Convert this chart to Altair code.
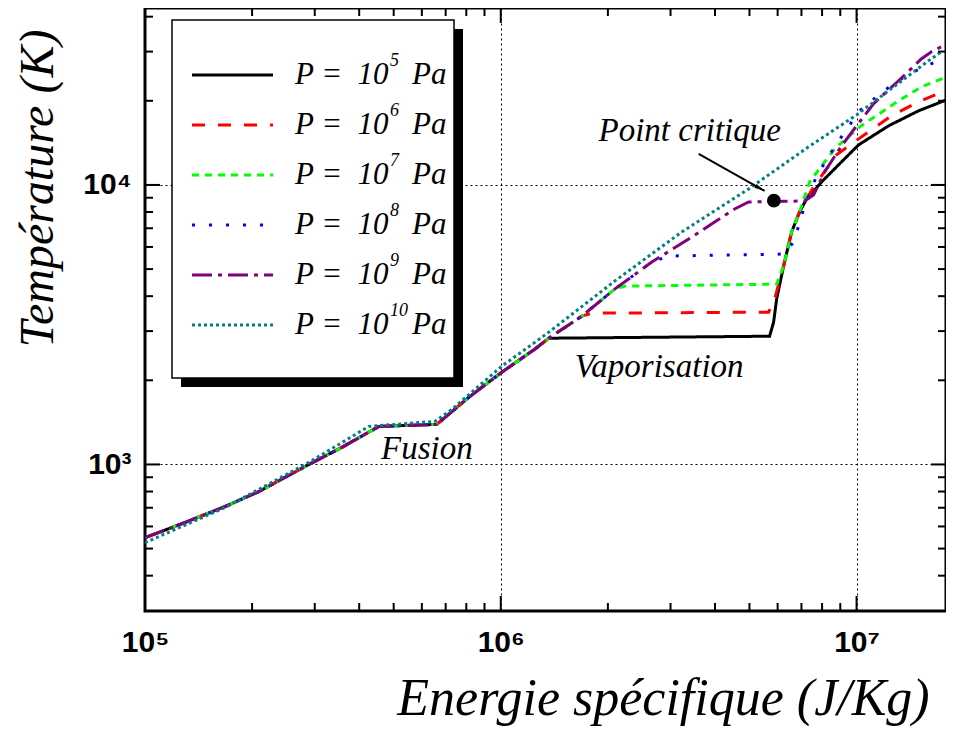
import altair as alt
import pandas as pd

# ---------------- data ----------------
series = ["1e5", "1e6", "1e7", "1e8", "1e9", "1e10"]
legend_base = ["P = \u00a010"] * 6
legend_exp = ["5", "6", "7", "8", "9", "10"]
legend_unit = ["Pa"] * 6
colors = ["#000000", "#ff0000", "#00ff00", "#0000ff", "#800080", "#008080"]
dashes = [[1, 0], [13, 13], [7, 6], [3, 14], [20, 6, 4, 6], [3, 3]]

# common (solid + liquid) branch, specific energy in J/kg, temperature in K
common_E = [1.0e5, 1.296e5, 1.678e5, 2.09e5, 2.888e5, 3.575e5, 4.543e5, 6.611e5,
            8.131e5, 1.006e6, 1.246e6, 1.364e6]
common_T = [547, 620, 707, 800, 1000, 1151, 1368, 1391, 1739, 2137, 2584, 2829]

E_1e5 = common_E + [5.695e6, 5.846e6, 5.961e6, 6.236e6, 6.567e6, 6.916e6, 7.236e6,
                    7.973e6, 8.90e6, 1.013e7, 1.230e7, 1.494e7, 1.885e7]
T_1e5 = common_T + [2876, 3228, 3903, 5124, 6785, 8004, 8910, 10250, 11800, 13910,
                    16270, 18420, 20680]

E_1e6 = common_E + [1.689e6, 1.801e6, 5.658e6, 5.884e6, 6.236e6, 6.567e6, 6.916e6,
                    7.236e6, 7.57e6, 8.785e6, 1.013e7, 1.254e7, 1.494e7, 1.885e7]
T_1e6 = common_T + [3392, 3477, 3506, 3903, 5124, 6785, 8004, 8910, 9836, 12810,
                    14620, 17670, 19840, 22450]

E_1e7 = common_E + [1.689e6, 2.09e6, 2.23e6, 5.961e6, 6.236e6, 6.567e6, 6.916e6,
                    7.379e6, 8.673e6, 1.02e7, 1.312e7, 1.523e7, 1.885e7]
T_1e7 = common_T + [3392, 4239, 4345, 4418, 5124, 6785, 8004, 10250, 13460, 16140,
                    20000, 22450, 24990]

E_1e8 = common_E + [1.689e6, 2.09e6, 2.657e6, 2.965e6, 6.236e6, 6.653e6, 6.873e6,
                    7.099e6, 7.72e6, 8.785e6, 1.02e7, 1.138e7, 1.27e7, 1.409e7,
                    1.573e7, 1.755e7]
T_1e8 = common_T + [3392, 4239, 5297, 5567, 5659, 6249, 7129, 8204, 10770, 14030,
                    18420, 20680, 23010, 24990, 26700, 28290]

E_1e9 = common_E + [1.689e6, 2.09e6, 2.657e6, 3.374e6, 3.991e6, 4.543e6, 4.974e6,
                    7.145e6, 7.57e6, 8.13e6, 9.076e6, 1.0e7, 1.116e7, 1.312e7,
                    1.523e7, 1.624e7, 1.733e7]
T_1e9 = common_T + [3392, 4239, 5297, 6405, 7369, 8204, 8692, 8765, 9209, 11130,
                    13800, 16270, 19510, 23590, 28290, 29970, 31230]

E_1e10 = [1.0e5, 1.678e5, 2.888e5, 4.258e5, 6.527e5, 7.285e5, 1.006e6, 1.364e6,
          2.09e6, 3.224e6, 4.974e6, 7.331e6, 1.0e7, 1.199e7, 1.364e7, 1.593e7, 1.733e7]
T_1e10 = [525, 701, 1017, 1368, 1426, 1574, 2245, 2972, 4528, 6785, 9676, 13690,
          17800, 21200, 23990, 27820, 29970]

critical_E = [5.857e6]
critical_T = [8783]

arrow_E = [3.599e6]
arrow_T = [12910]
arrow_E2 = [5.516e6]
arrow_T2 = [9517]

annot_text = ["Point critique", "Vaporisation", "Fusion"]
annot_E = [3.396e6, 2.788e6, 6.197e5]
annot_T = [14380, 2050, 1042]

x_major = [1e5, 1e6, 1e7]
x_minor = [2e5, 3e5, 4e5, 5e5, 6e5, 7e5, 8e5, 9e5,
           2e6, 3e6, 4e6, 5e6, 6e6, 7e6, 8e6, 9e6]
y_major = [1e3, 1e4]
y_minor = [400, 500, 600, 700, 800, 900,
           2000, 3000, 4000, 5000, 6000, 7000, 8000, 9000, 2e4, 3e4, 4e4]

# ---------------- tables ----------------
rows = []
for name, Es, Ts in zip(series, [E_1e5, E_1e6, E_1e7, E_1e8, E_1e9, E_1e10],
                        [T_1e5, T_1e6, T_1e7, T_1e8, T_1e9, T_1e10]):
    for i, (e, t) in enumerate(zip(Es, Ts)):
        rows.append({"series": name, "E": e, "T": t, "i": i})
df = pd.DataFrame(rows)

W, H = 801, 603
xscale = alt.Scale(type="log", domain=[1e5, 1.784e7], nice=False)
yscale = alt.Scale(type="log", domain=[299, 42960], nice=False)
cscale = alt.Scale(domain=series, range=colors)
dscale = alt.Scale(domain=series, range=dashes)

xaxis = alt.Axis(
    values=x_major,
    labelExpr="datum.value < 5e5 ? '10⁵' : datum.value < 5e6 ? '10⁶' : '10⁷'",
    ticks=False, tickSize=0, domain=False, grid=True, gridDash=[2, 3],
    gridColor="#000000", gridWidth=1, labelFont="Liberation Sans",
    labelFontWeight="bold", labelFontSize=30, labelColor="black",
    labelPadding=16, labelFlush=False,
    title="Energie spécifique (J/Kg)", titleFont="Liberation Serif",
    titleFontStyle="italic", titleFontWeight="normal", titleFontSize=52,
    titleColor="black", titleX=518, titleY=103, titleAlign="center",
    titleBaseline="alphabetic",
)
yaxis = alt.Axis(
    values=y_major,
    labelExpr="datum.value < 5e3 ? '10³' : '10⁴'",
    ticks=False, tickSize=0, domain=False, grid=True, gridDash=[2, 3],
    gridColor="#000000", gridWidth=1, labelFont="Liberation Sans",
    labelFontWeight="bold", labelFontSize=30, labelColor="black",
    labelPadding=14,
    title="Température (K)", titleFont="Liberation Serif",
    titleFontStyle="italic", titleFontWeight="normal", titleFontSize=48,
    titleColor="black", titleAngle=270, titleX=-93, titleY=180,
    titleAlign="center", titleBaseline="alphabetic",
)


def X(field):
    return alt.X(field, type="quantitative", scale=xscale, axis=xaxis)


def Y(field):
    return alt.Y(field, type="quantitative", scale=yscale, axis=yaxis)


lines = alt.Chart(df).mark_line(strokeWidth=3, clip=True).encode(
    x=X("E"), y=Y("T"),
    color=alt.Color("series:N", scale=cscale, legend=None),
    strokeDash=alt.StrokeDash("series:N", scale=dscale, legend=None),
    order=alt.Order("i:Q"),
)

xmaj = pd.DataFrame({"E": x_major})
xmin = pd.DataFrame({"E": x_minor})
ymaj = pd.DataFrame({"T": y_major})
ymin = pd.DataFrame({"T": y_minor})

tick_layers = []
for d, L in [(xmaj, 15), (xmin, 8)]:
    tick_layers.append(alt.Chart(d).mark_rule(color="black", strokeWidth=2).encode(
        x=X("E"), y=alt.value(H), y2=alt.value(H - L)))
    tick_layers.append(alt.Chart(d).mark_rule(color="black", strokeWidth=2).encode(
        x=X("E"), y=alt.value(0), y2=alt.value(L)))
for d, L in [(ymaj, 15), (ymin, 8)]:
    tick_layers.append(alt.Chart(d).mark_rule(color="black", strokeWidth=2).encode(
        y=Y("T"), x=alt.value(0), x2=alt.value(L)))
    tick_layers.append(alt.Chart(d).mark_rule(color="black", strokeWidth=2).encode(
        y=Y("T"), x=alt.value(W), x2=alt.value(W - L)))

crit = alt.Chart(pd.DataFrame({"E": critical_E, "T": critical_T})).mark_circle(
    color="black", size=190, opacity=1).encode(x=X("E"), y=Y("T"))

arrow_df = pd.DataFrame({"E": arrow_E, "T": arrow_T, "E2": arrow_E2, "T2": arrow_T2})
arrow_line = alt.Chart(arrow_df).mark_rule(color="black", strokeWidth=2).encode(
    x=X("E"), y=Y("T"), x2="E2:Q", y2="T2:Q")
arrow_head = alt.Chart(arrow_df).mark_point(
    shape="M0,0L0.4,2L-0.4,2Z", angle=119, filled=True, color="black",
    size=110, opacity=1).encode(x=X("E2"), y=Y("T2"))

annots = alt.Chart(pd.DataFrame({"E": annot_E, "T": annot_T, "txt": annot_text})).mark_text(
    font="Liberation Serif", fontStyle="italic", fontSize=33, align="center",
    baseline="alphabetic", color="black").encode(x=X("E"), y=Y("T"), text="txt:N")

main = alt.layer(lines, *tick_layers, arrow_line, arrow_head, crit, annots)

# ---------------- legend (drawn inside plot) ----------------
one = pd.DataFrame({"a": [0]})
shadow = alt.Chart(one).mark_rect(color="black").encode(
    x=alt.value(36), x2=alt.value(318), y=alt.value(21), y2=alt.value(379))
box = alt.Chart(one).mark_rect(fill="white", stroke="black", strokeWidth=1.5).encode(
    x=alt.value(27), x2=alt.value(309), y=alt.value(12), y2=alt.value(370))
leg_df = pd.DataFrame({"series": series, "base": legend_base,
                       "exp": legend_exp, "unit": legend_unit})
leg_y = alt.Y("series:N", scale=alt.Scale(type="point", domain=series,
                                          range=[67, 317], padding=0), axis=None)
leg_lines = alt.Chart(leg_df).mark_rule(strokeWidth=3).encode(
    x=alt.value(47), x2=alt.value(128), y=leg_y,
    color=alt.Color("series:N", scale=cscale, legend=None),
    strokeDash=alt.StrokeDash("series:N", scale=dscale, legend=None))
txt_style = dict(font="Liberation Serif", fontStyle="italic", align="left",
                 color="black")
leg_base = alt.Chart(leg_df).mark_text(fontSize=31, baseline="middle", **txt_style).encode(
    x=alt.value(150), y=leg_y, text="base:N")
leg_exp = alt.Chart(leg_df).mark_text(fontSize=18, baseline="middle", dy=-14,
                                      **txt_style).encode(
    x=alt.value(245), y=leg_y, text="exp:N")
leg_unit = alt.Chart(leg_df).mark_text(fontSize=31, baseline="middle", **txt_style).encode(
    x=alt.value(267), y=leg_y, text="unit:N")
legend = alt.layer(shadow, box, leg_lines, leg_base, leg_exp, leg_unit)

chart = alt.layer(main, legend).resolve_scale(y="independent").properties(
    width=W, height=H,
    autosize=alt.AutoSizeParams(type="none"),
    padding={"left": 137, "top": 0, "right": 0, "bottom": 117},
    background="white",
).configure_view(stroke="black", strokeWidth=3)

chart.save("out.html", embed_options={"renderer": "svg", "actions": False})
